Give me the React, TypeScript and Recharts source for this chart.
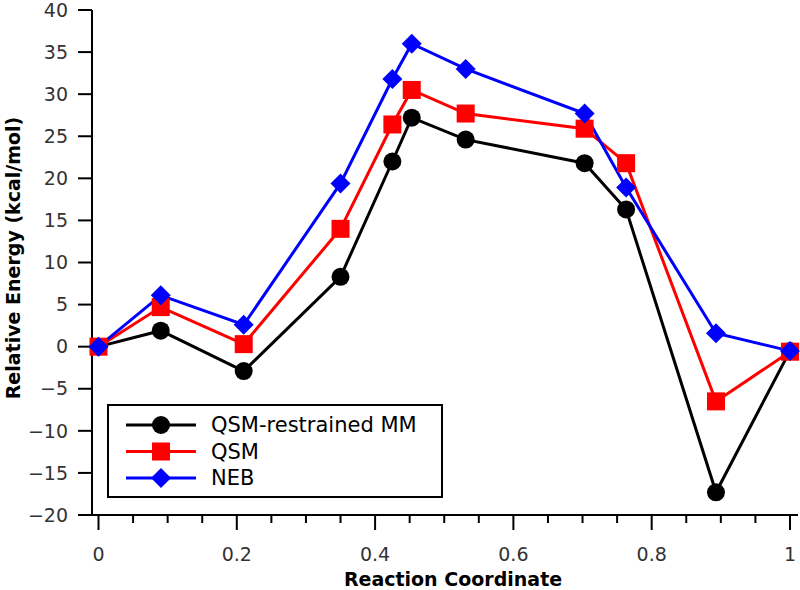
import React from 'react';
import { LineChart, Line, XAxis, YAxis } from 'recharts';

// reaction coordinate positions shared by all three paths
const coords = [0, 0.09, 0.21, 0.35, 0.425, 0.453, 0.531, 0.703, 0.763, 0.893, 1.0];
const qsmMM = [0, 1.9, -2.9, 8.3, 22.0, 27.2, 24.6, 21.8, 16.3, -17.3, -0.5];
const qsm = [0, 4.7, 0.3, 14.0, 26.4, 30.5, 27.7, 25.9, 21.8, -6.5, -0.6];
const neb = [0, 6.1, 2.6, 19.4, 31.8, 36.0, 33.0, 27.7, 18.9, 1.6, -0.5];

const xTicks = [0, 0.05, 0.1, 0.15, 0.2, 0.25, 0.3, 0.35, 0.4, 0.45, 0.5, 0.55, 0.6, 0.65, 0.7, 0.75, 0.8, 0.85, 0.9, 0.95, 1];
const xLabels = ['0', '0.2', '0.4', '0.6', '0.8', '1'];
const yTicks = [-20, -15, -10, -5, 0, 5, 10, 15, 20, 25, 30, 35, 40];

const series = [
  { key: 'qsmMM', name: 'QSM-restrained MM', color: '#000000', shape: 'circle' },
  { key: 'qsm', name: 'QSM', color: '#ff0000', shape: 'square' },
  { key: 'neb', name: 'NEB', color: '#0000ff', shape: 'diamond' },
];

const data = coords.map((x, i) => ({ x, qsmMM: qsmMM[i], qsm: qsm[i], neb: neb[i] }));

const FONT = '"DejaVu Sans", "Open Sans", sans-serif';

const Marker = ({ cx, cy, shape, color }: any) => {
  if (cx == null || cy == null) return null;
  if (shape === 'circle') return <circle cx={cx} cy={cy} r={9} fill={color} />;
  if (shape === 'square') return <rect x={cx - 9} y={cy - 9} width={18} height={18} fill={color} />;
  return <polygon points={`${cx},${cy - 10} ${cx + 10},${cy} ${cx},${cy + 10} ${cx - 10},${cy}`} fill={color} />;
};

const XTick = ({ x, y, payload }: any) => {
  const v = payload.value;
  const major = Math.abs(v * 5 - Math.round(v * 5)) < 1e-6;
  const label = major ? xLabels[Math.round(v * 5)] : null;
  return (
    <g>
      <line x1={x} x2={x} y1={y} y2={y + (major ? 15 : 8)} stroke="#000" strokeWidth={2} />
      {label && (
        <text x={x} y={y + 46} textAnchor="middle" fontSize={19} fill="#333" fontFamily={FONT}>
          {label}
        </text>
      )}
    </g>
  );
};

export default function App() {
  return (
    <div style={{ position: 'absolute', left: 0, top: 0, width: 800, height: 590, background: '#fff' }}>
      <LineChart width={800} height={590} data={data} margin={{ top: 10, right: 2, left: 0, bottom: 0 }}>
        <XAxis
          dataKey="x"
          type="number"
          domain={[-0.0094, 1.0116]}
          ticks={xTicks}
          interval={0}
          height={75}
          tickSize={0}
          tickMargin={0}
          tickLine={false}
          axisLine={{ stroke: '#000', strokeWidth: 2 }}
          tick={<XTick />}
          label={() => (
            <text x={453} y={586} textAnchor="middle" fontSize={19} fontWeight="bold" fill="#000" fontFamily={FONT}>
              Reaction Coordinate
            </text>
          )}
        />
        <YAxis
          type="number"
          domain={[-20, 40]}
          ticks={yTicks}
          interval={0}
          width={92}
          tickSize={14}
          tickMargin={10}
          axisLine={{ stroke: '#000', strokeWidth: 2 }}
          tickLine={{ stroke: '#000', strokeWidth: 2 }}
          tick={{ fill: '#333', fontSize: 19, fontFamily: FONT }}
          tickFormatter={(v: number) => (v < 0 ? `\u2212${Math.abs(v)}` : `${v}`)}
          label={() => (
            <text
              x={20}
              y={258}
              transform="rotate(-90 20 258)"
              textAnchor="middle"
              fontSize={19}
              fontWeight="bold"
              fill="#000"
              fontFamily={FONT}
            >
              Relative Energy (kcal/mol)
            </text>
          )}
        />
        {series.map(s => (
          <Line
            key={s.key}
            type="linear"
            dataKey={s.key}
            name={s.name}
            stroke={s.color}
            strokeWidth={3}
            isAnimationActive={false}
            dot={(p: any) => <Marker key={`${s.key}-${p.index}`} cx={p.cx} cy={p.cy} shape={s.shape} color={s.color} />}
            activeDot={false}
          />
        ))}
      </LineChart>
      <div
        style={{
          position: 'absolute',
          left: 107,
          top: 404,
          width: 336,
          height: 94,
          border: '2px solid #000',
          boxSizing: 'border-box',
          background: '#fff',
          fontFamily: FONT,
        }}
      >
        <svg width={332} height={90} style={{ position: 'absolute', left: 0, top: 0 }}>
          {series.map((s, i) => {
            const cy = 19 + i * 26.5;
            return (
              <g key={s.key}>
                <line x1={17} x2={87} y1={cy} y2={cy} stroke={s.color} strokeWidth={3} />
                <Marker cx={52} cy={cy} shape={s.shape} color={s.color} />
                <text x={102} y={cy + 7} fontSize={21} fill="#000" fontFamily={FONT}>
                  {s.name}
                </text>
              </g>
            );
          })}
        </svg>
      </div>
    </div>
  );
}
